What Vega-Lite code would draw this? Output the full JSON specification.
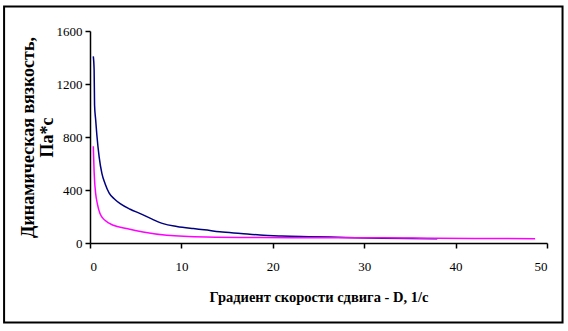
{
  "$schema": "https://vega.github.io/schema/vega-lite/v6.json",
  "autosize": "none",
  "width": 457,
  "height": 212,
  "padding": {"left": 90, "top": 31, "right": 21, "bottom": 88},
  "background": "white",
  "config": {"view": {"stroke": null}, "font": "Liberation Serif"},
  "datasets": {
    "curves": [
      {"D": 0.36, "eta": 1409, "series": "A"},
      {"D": 0.45, "eta": 1310, "series": "A"},
      {"D": 0.5, "eta": 1040, "series": "A"},
      {"D": 0.62, "eta": 930, "series": "A"},
      {"D": 0.75, "eta": 815, "series": "A"},
      {"D": 1.0, "eta": 650, "series": "A"},
      {"D": 1.3, "eta": 525, "series": "A"},
      {"D": 1.65, "eta": 448, "series": "A"},
      {"D": 2.1, "eta": 377, "series": "A"},
      {"D": 2.7, "eta": 330, "series": "A"},
      {"D": 3.3, "eta": 297, "series": "A"},
      {"D": 4.4, "eta": 255, "series": "A"},
      {"D": 5.5, "eta": 222, "series": "A"},
      {"D": 6.8, "eta": 180, "series": "A"},
      {"D": 8.0, "eta": 146, "series": "A"},
      {"D": 9.5, "eta": 125, "series": "A"},
      {"D": 11.3, "eta": 109, "series": "A"},
      {"D": 12.5, "eta": 100, "series": "A"},
      {"D": 14.2, "eta": 85, "series": "A"},
      {"D": 16.5, "eta": 72, "series": "A"},
      {"D": 18.6, "eta": 60, "series": "A"},
      {"D": 21, "eta": 53, "series": "A"},
      {"D": 24, "eta": 48, "series": "A"},
      {"D": 28, "eta": 42, "series": "A"},
      {"D": 32, "eta": 36, "series": "A"},
      {"D": 38, "eta": 33, "series": "A"},
      {"D": 0.36, "eta": 730, "series": "B"},
      {"D": 0.45, "eta": 540, "series": "B"},
      {"D": 0.5, "eta": 470, "series": "B"},
      {"D": 0.62, "eta": 373, "series": "B"},
      {"D": 0.8, "eta": 297, "series": "B"},
      {"D": 1.09, "eta": 222, "series": "B"},
      {"D": 1.64, "eta": 171, "series": "B"},
      {"D": 2.55, "eta": 134, "series": "B"},
      {"D": 4.0, "eta": 109, "series": "B"},
      {"D": 5.8, "eta": 83, "series": "B"},
      {"D": 8.4, "eta": 58, "series": "B"},
      {"D": 12.7, "eta": 45, "series": "B"},
      {"D": 18.6, "eta": 41, "series": "B"},
      {"D": 25, "eta": 40, "series": "B"},
      {"D": 32, "eta": 40, "series": "B"},
      {"D": 38, "eta": 35, "series": "B"},
      {"D": 48.7, "eta": 33, "series": "B"}
    ]
  },
  "layer": [
    {
      "data": {"values": [{"x1": -9.4, "x2": 51.7, "y1": -600, "y2": 1785}]},
      "mark": {"type": "rect", "fill": null, "stroke": "black", "strokeWidth": 2, "clip": false},
      "encoding": {
        "x": {"field": "x1", "type": "quantitative", "scale": {"domain": [0, 50]}},
        "x2": {"field": "x2"},
        "y": {"field": "y1", "type": "quantitative", "scale": {"domain": [0, 1600]}},
        "y2": {"field": "y2"}
      }
    },
    {
      "data": {"name": "curves"},
      "mark": {"type": "line", "strokeWidth": 1.5, "interpolate": "monotone"},
      "encoding": {
        "x": {
          "field": "D", "type": "quantitative",
          "scale": {"domain": [0, 50], "nice": false, "zero": false},
          "axis": {
            "values": [0, 10, 20, 30, 40, 50], "format": "d",
            "grid": false, "domainColor": "black", "domainWidth": 1.5,
            "tickColor": "black", "tickWidth": 1.5, "tickSize": 5,
            "labelFont": "Liberation Serif", "labelFontSize": 13, "labelColor": "black",
            "labelPadding": 12,
            "title": "Градиент скорости сдвига - D, 1/c",
            "titleFont": "Liberation Serif", "titleFontSize": 14.5, "titleFontWeight": "bold",
            "titleColor": "black", "titleY": 47
          }
        },
        "y": {
          "field": "eta", "type": "quantitative",
          "scale": {"domain": [0, 1600], "nice": false},
          "axis": {
            "values": [0, 400, 800, 1200, 1600], "format": "d",
            "grid": false, "domainColor": "black", "domainWidth": 1.5,
            "tickColor": "black", "tickWidth": 1.5, "tickSize": 5,
            "labelFont": "Liberation Serif", "labelFontSize": 13, "labelColor": "black",
            "labelPadding": 3,
            "title": ["Динамическая вязкость,", "Па*с"],
            "titleFont": "Liberation Serif", "titleFontSize": 18, "titleFontWeight": "bold",
            "titleColor": "black", "titleX": -62, "titleY": 106,
            "titleAngle": -90, "titleAlign": "center", "titleBaseline": "middle", "titleLineHeight": 19
          }
        },
        "color": {
          "field": "series", "type": "nominal",
          "scale": {"domain": ["A", "B"], "range": ["#000080", "#FF00FF"]},
          "legend": null
        }
      }
    }
  ]
}
